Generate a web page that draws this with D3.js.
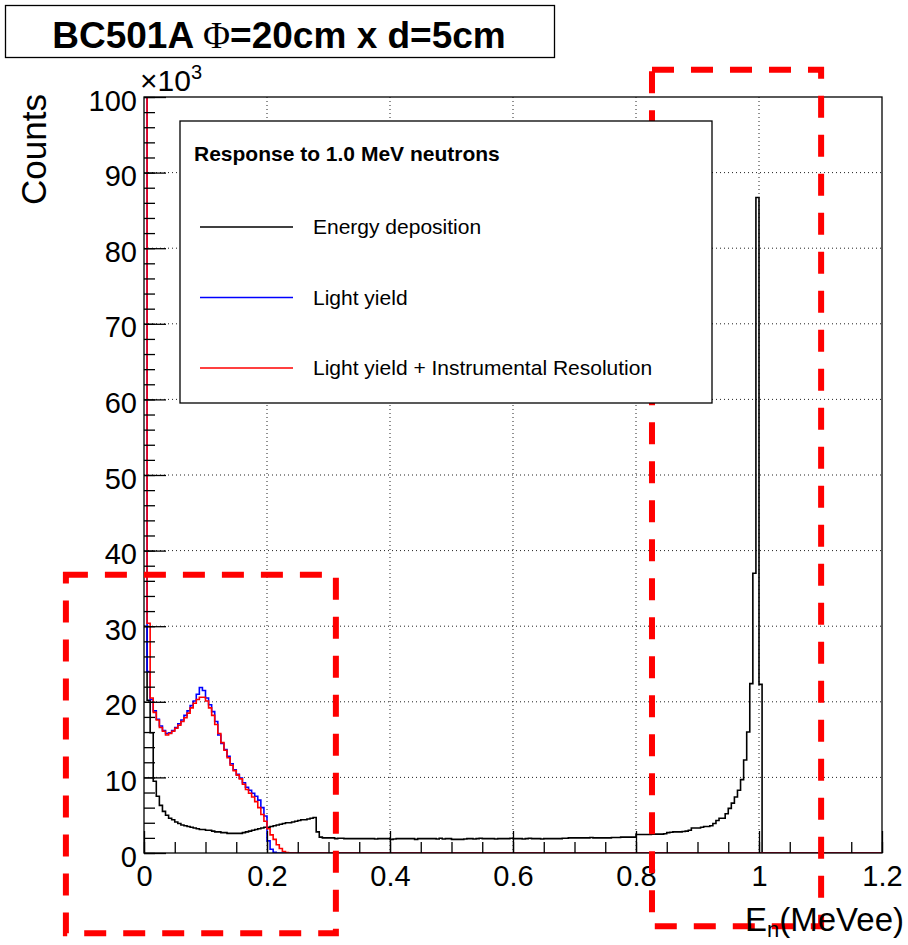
<!DOCTYPE html>
<meta charset="utf-8">
<html>
<script src="https://d3js.org/d3.v7.min.js"></script>
<style>
    body { margin: 0; background: #fff; }
    text { font-family: "Liberation Sans", Arial, Helvetica, sans-serif; fill: #000; }
</style>
<body>
<div id="chart"></div>
<script>

// bin width of the histograms (MeVee), counts in units of 10^3
var binWidth = 0.005;

// Energy deposition, bins of 0.005 from 0 to 1.01 (one row = 0.1 MeVee)
var energyDep = [
    30, 20.2, 15.9, 9.5, 7.5, 6.3, 5.5, 5.0, 4.6, 4.4, 4.1, 3.9, 3.7, 3.6, 3.5, 3.4, 3.3, 3.2, 3.1, 3.1,
    3.0, 3.0, 2.9, 2.8, 2.8, 2.7, 2.7, 2.6, 2.6, 2.6, 2.6, 2.6, 2.7, 2.8, 2.9, 3.0, 3.1, 3.2, 3.3, 3.4,
    3.4, 3.5, 3.6, 3.7, 3.8, 3.9, 4.0, 4.0, 4.1, 4.2, 4.3, 4.4, 4.4, 4.5, 4.6, 4.7, 2.8, 2.1, 2.0, 2.0,
    2.0, 2.0, 1.9, 1.95, 1.95, 1.9, 1.9, 1.9, 1.9, 1.9, 1.9, 1.9, 1.9, 1.9, 1.9, 1.85, 1.9, 1.9, 1.9, 1.9,
    1.8, 1.85, 1.9, 1.9, 1.9, 1.9, 1.9, 1.9, 1.8, 1.9, 1.9, 1.9, 1.9, 1.9, 1.9, 1.85, 1.95, 1.85, 1.9, 1.9,
    1.8, 1.8, 1.8, 1.8, 1.85, 1.9, 1.9, 1.85, 1.9, 1.95, 1.9, 1.9, 1.9, 1.9, 1.85, 1.9, 1.9, 1.9, 1.9, 1.95,
    1.9, 1.9, 1.9, 1.85, 1.9, 1.95, 1.9, 1.9, 1.9, 1.85, 1.9, 1.9, 1.9, 1.9, 1.9, 1.9, 1.95, 1.95, 2.0, 2.0,
    2.0, 2.0, 2.0, 2.0, 2.0, 2.05, 2.0, 2.0, 2.0, 2.0, 2.0, 2.0, 2.05, 2.05, 2.05, 2.1, 2.1, 2.1, 2.1, 2.1,
    2.45, 2.45, 2.45, 2.45, 2.45, 2.5, 2.5, 2.5, 2.5, 2.55, 2.7, 2.75, 2.8, 2.8, 2.8, 2.85, 2.9, 3.0, 3.3, 3.3,
    3.3, 3.4, 3.5, 3.5, 3.6, 3.9, 4.3, 4.6, 4.6, 5.2, 5.9, 6.6, 7.4, 8.3, 9.7, 12.3, 16.0, 22.4, 37.0, 86.7,
    22.3, 0
];

// Light yield, bins of 0.005 from 0
var lightYield = [
    140, 24.0, 20.3, 18.8, 17.7, 16.8, 16.2, 15.8, 15.9, 16.2, 16.6, 17.1, 17.6, 18.2, 18.8, 19.5, 20.1, 21.0, 21.9, 21.5,
    20.5, 19.6, 18.7, 17.4, 15.6, 14.5, 13.7, 12.8, 11.8, 11.0, 10.4, 9.9, 9.3, 8.7, 8.3, 7.9, 7.5, 7.0, 6.0, 4.9,
    1.6, 0.5, 0.1, 0
];

// Light yield + instrumental resolution, bins of 0.005 from 0
var lightYieldRes = [
    140, 30.4, 20.5, 18.6, 17.6, 16.6, 16.1, 15.6, 15.8, 16.1, 16.5, 16.9, 17.4, 17.9, 18.5, 19.2, 19.8, 20.3, 20.6, 20.6,
    20.1, 19.2, 18.2, 17.0, 15.8, 14.6, 13.6, 12.6, 11.6, 10.9, 10.3, 9.8, 9.1, 8.4, 7.9, 7.4, 6.8, 6.0, 5.1, 4.2,
    3.2, 2.4, 1.8, 1.1, 0.6, 0.2, 0.05, 0
];

var xTicks = [0, 0.2, 0.4, 0.6, 0.8, 1, 1.2];
var xTickLabels = ["0", "0.2", "0.4", "0.6", "0.8", "1", "1.2"];
var yTicks = [0, 10, 20, 30, 40, 50, 60, 70, 80, 90, 100];

var legendItems = ["Energy deposition", "Light yield", "Light yield + Instrumental Resolution"];
var legendColors = ["#000000", "#0000ff", "#ff0000"];

// red dashed annotation boxes [x0, x1, y0, y1] in data units
var boxes = [
    [-0.127, 0.312, -10.6, 36.8],
    [0.826, 1.101, -9.7, 103.6]
];

var margin = { top: 97, right: 26, bottom: 92, left: 144 },
    width = 908 - margin.left - margin.right,
    height = 945 - margin.top - margin.bottom;

var svgRoot = d3.select("#chart")
    .append("svg")
    .attr("width", 908)
    .attr("height", 945);

var svg = svgRoot.append("g")
    .attr("transform", "translate(" + margin.left + "," + margin.top + ")");

var x = d3.scaleLinear().domain([0, 1.2]).range([0, width]);
var y = d3.scaleLinear().domain([0, 100]).range([height, 0]);

svg.append("clipPath").attr("id", "frameClip")
    .append("rect").attr("width", width).attr("height", height);

// grid
svg.append("g").selectAll("line.gx")
    .data(xTicks.slice(1, -1)).enter().append("line")
    .attr("x1", function (d) { return x(d); }).attr("x2", function (d) { return x(d); })
    .attr("y1", 0).attr("y2", height)
    .attr("stroke", "#222").attr("stroke-width", 1).attr("stroke-dasharray", "1,3");
svg.append("g").selectAll("line.gy")
    .data(yTicks.slice(1, -1)).enter().append("line")
    .attr("y1", function (d) { return y(d); }).attr("y2", function (d) { return y(d); })
    .attr("x1", 0).attr("x2", width)
    .attr("stroke", "#222").attr("stroke-width", 1).attr("stroke-dasharray", "1,3");

// histograms as steps
function stepData(vals) {
    var pts = vals.map(function (v, i) { return [i * binWidth, v]; });
    pts.push([x.domain()[1], vals[vals.length - 1]]);
    return pts;
}
var line = d3.line()
    .x(function (d) { return x(d[0]); })
    .y(function (d) { return y(d[1]); })
    .curve(d3.curveStepAfter);

var hists = svg.append("g").attr("clip-path", "url(#frameClip)");
[[energyDep, "#000000"], [lightYield, "#0000ff"], [lightYieldRes, "#ff0000"]].forEach(function (h) {
    hists.append("path")
        .datum(stepData(h[0]))
        .attr("fill", "none")
        .attr("stroke", h[1])
        .attr("stroke-width", 1.6)
        .attr("d", line);
});

// axes
var yMinor = svg.append("g")
    .call(d3.axisLeft(y).tickValues(d3.range(0, 101, 2)).tickSize(-11).tickFormat(""));
var yMajor = svg.append("g")
    .call(d3.axisLeft(y).tickValues(yTicks).tickSize(-22).tickPadding(7));
var xMinor = svg.append("g").attr("transform", "translate(0," + height + ")")
    .call(d3.axisBottom(x).tickValues(d3.range(0, 1.2001, 0.05)).tickSize(-11).tickFormat(""));
var xMajor = svg.append("g").attr("transform", "translate(0," + height + ")")
    .call(d3.axisBottom(x).tickValues(xTicks).tickSize(-22).tickPadding(12)
        .tickFormat(function (d, i) { return xTickLabels[i]; }));

[yMinor, yMajor, xMinor, xMajor].forEach(function (a) {
    a.select(".domain").remove();
    a.selectAll("line").attr("stroke", "#000").attr("stroke-width", 1.3);
});
yMajor.selectAll("text").attr("font-size", 29).attr("dy", "0.45em")
    .style("font-family", "Liberation Sans, Arial, sans-serif");
xMajor.selectAll("text").attr("font-size", 29)
    .style("font-family", "Liberation Sans, Arial, sans-serif");

// frame
svg.append("rect").attr("width", width).attr("height", height)
    .attr("fill", "none").attr("stroke", "#000").attr("stroke-width", 1.3);

// x10^3
var mult = svg.append("text").attr("x", -4).attr("y", -6).attr("font-size", 30);
mult.append("tspan").text("\u00d710");
mult.append("tspan").attr("font-size", 20).attr("dy", -12).text("3");

// axis titles
svgRoot.append("text")
    .attr("transform", "translate(46,94) rotate(-90)")
    .attr("text-anchor", "end")
    .attr("font-size", 35)
    .text("Counts");
var xt = svgRoot.append("text")
    .attr("x", 904).attr("y", 931)
    .attr("text-anchor", "end")
    .attr("font-size", 33);
xt.append("tspan").text("E");
xt.append("tspan").attr("font-size", 22).attr("dy", 6).text("n");
xt.append("tspan").attr("dy", -6).text("(MeVee)");

// legend
var leg = svgRoot.append("g");
leg.append("rect").attr("x", 180).attr("y", 121).attr("width", 532).attr("height", 282)
    .attr("fill", "#fff").attr("stroke", "#000").attr("stroke-width", 1.3);
leg.append("text").attr("x", 194).attr("y", 161)
    .attr("font-size", 21).attr("font-weight", "bold")
    .text("Response to 1.0 MeV neutrons");
legendItems.forEach(function (name, i) {
    var ly = 227 + i * 70.5;
    leg.append("line").attr("x1", 200).attr("x2", 293).attr("y1", ly).attr("y2", ly)
        .attr("stroke", legendColors[i]).attr("stroke-width", 1.3);
    leg.append("text").attr("x", 313).attr("y", ly + 7)
        .attr("font-size", 21).text(name);
});

// title box
svgRoot.append("rect").attr("x", 5.5).attr("y", 5.5).attr("width", 549).attr("height", 52)
    .attr("fill", "#fff").attr("stroke", "#000").attr("stroke-width", 1.3);
var title = svgRoot.append("text").attr("x", 279).attr("y", 48)
    .attr("text-anchor", "middle").attr("font-size", 37).attr("font-weight", "bold");
title.append("tspan").text("BC501A ");
title.append("tspan").attr("font-family", "Liberation Serif, DejaVu Serif, serif")
    .attr("font-weight", "normal").text("\u03a6");
title.append("tspan").text("=20cm x d=5cm");

// red dashed annotation boxes
svg.append("g").selectAll("rect.box")
    .data(boxes).enter().append("rect")
    .attr("x", function (d) { return x(d[0]); })
    .attr("y", function (d) { return y(d[3]); })
    .attr("width", function (d) { return x(d[1]) - x(d[0]); })
    .attr("height", function (d) { return y(d[2]) - y(d[3]); })
    .attr("fill", "none")
    .attr("stroke", "#ff0000")
    .attr("stroke-width", 6)
    .attr("stroke-dasharray", "22,17");

</script>
</body>
</html>
